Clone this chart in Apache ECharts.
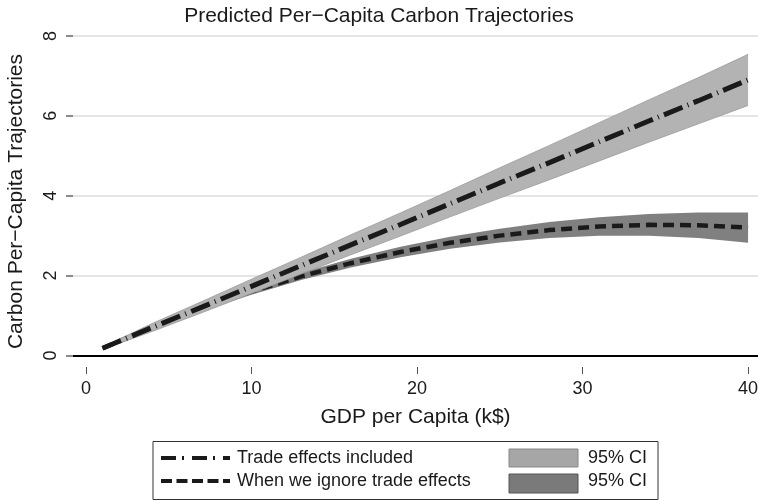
<!DOCTYPE html>
<html>
<head>
<meta charset="utf-8">
<script src="https://cdn.jsdelivr.net/npm/echarts@6/dist/echarts.min.js"></script>
<style>html,body{margin:0;padding:0;background:#fff}#c{width:758px;height:500px}</style>
</head>
<body>
<div id="c"></div>
<script>
// ---- data ----
var gdp = [1, 4, 7, 10, 13, 16, 19, 22, 25, 28, 31, 34, 37, 40];
var tradeFit   = [0.18, 0.70, 1.21, 1.73, 2.25, 2.77, 3.28, 3.80, 4.32, 4.83, 5.35, 5.87, 6.38, 6.90];
var tradeUpper = [0.21, 0.80, 1.35, 1.91, 2.46, 3.02, 3.57, 4.13, 4.70, 5.26, 5.83, 6.40, 6.96, 7.54];
var tradeLower = [0.15, 0.60, 1.07, 1.55, 2.04, 2.52, 2.99, 3.47, 3.94, 4.40, 4.87, 5.34, 5.80, 6.26];
var noTradeFit   = [0.18, 0.70, 1.18, 1.60, 1.98, 2.31, 2.59, 2.82, 3.00, 3.14, 3.23, 3.27, 3.26, 3.20];
var noTradeUpper = [0.20, 0.74, 1.24, 1.68, 2.07, 2.42, 2.72, 2.97, 3.17, 3.34, 3.46, 3.54, 3.58, 3.58];
var noTradeLower = [0.16, 0.66, 1.12, 1.52, 1.89, 2.20, 2.46, 2.67, 2.83, 2.94, 3.00, 3.00, 2.94, 2.82];
var xTicks = [0, 10, 20, 30, 40];
var yTicks = [0, 2, 4, 6, 8];
var titleText = 'Predicted Per\u2212Capita Carbon Trajectories';
var xName = 'GDP per Capita (k$)';
var yName = 'Carbon Per\u2212Capita Trajectories';
var legendLabels = ['Trade effects included', 'When we ignore trade effects', '95% CI', '95% CI'];

// ---- build ----
function pairs(ys) { return gdp.map(function (x, i) { return [x, ys[i]]; }); }
function bandData(lo, hi) { return gdp.map(function (x, i) { return [x, lo[i], hi[i]]; }); }
function makeBand(lo, hi, fill, stroke, z) {
  var d = bandData(lo, hi);
  return {
    type: 'custom', data: d, z: z, silent: true, clip: true,
    encode: { x: 0, y: [1, 2] },
    renderItem: function (params, api) {
      if (params.dataIndex !== 0) return null;
      var upper = [], lower = [];
      for (var i = 0; i < d.length; i++) {
        upper.push(api.coord([d[i][0], d[i][2]]));
        lower.push(api.coord([d[i][0], d[i][1]]));
      }
      var pts = upper.concat(lower.slice().reverse());
      var children = [{ type: 'polygon', shape: { points: pts }, style: { fill: fill, stroke: 'none' } }];
      if (stroke) {
        children.push({ type: 'polyline', shape: { points: upper }, style: { fill: 'none', stroke: stroke, lineWidth: 0.8 } });
        children.push({ type: 'polyline', shape: { points: lower }, style: { fill: 'none', stroke: stroke, lineWidth: 0.8 } });
      }
      return { type: 'group', children: children };
    }
  };
}
var FONT = 'Liberation Sans, Arial, Helvetica, sans-serif';
var chart = echarts.init(document.getElementById('c'), null, { renderer: 'canvas' });
var option = {
  animation: false,
  backgroundColor: '#ffffff',
  textStyle: { fontFamily: FONT },
  title: {
    text: titleText, left: 'center', top: 6, padding: 0,
    textStyle: { fontFamily: FONT, fontSize: 21, fontWeight: 'normal', color: '#1a1a1a' }
  },
  grid: { left: 73, right: 0, top: 36, bottom: 133, containLabel: false, outerBoundsMode: 'none' },
  xAxis: {
    type: 'value', min: -0.785, max: 40.6,
    name: xName, nameLocation: 'middle', nameGap: 40,
    nameTextStyle: { fontFamily: FONT, fontSize: 21, color: '#1a1a1a' },
    axisLine: { show: false, onZero: false },
    axisTick: { show: true, length: 7, customValues: xTicks, lineStyle: { color: '#555', width: 1 } },
    axisLabel: { customValues: xTicks, margin: 13, fontFamily: FONT, fontSize: 18, color: '#1a1a1a' },
    splitLine: { show: false }
  },
  yAxis: {
    type: 'value', min: -0.29, max: 8,
    name: yName, nameLocation: 'middle', nameGap: 46, nameRotate: 90,
    nameTextStyle: { fontFamily: FONT, fontSize: 21, color: '#1a1a1a' },
    axisLine: { show: false, onZero: false },
    axisTick: { show: true, length: 7, customValues: yTicks, lineStyle: { color: '#666', width: 1.5 } },
    axisLabel: { customValues: yTicks, rotate: 90, margin: 13, align: 'center', verticalAlign: 'bottom',
      fontFamily: FONT, fontSize: 18, color: '#1a1a1a' },
    splitLine: { show: true, lineStyle: { color: '#dcdcdc', width: 1.5 } }
  },
  series: [
    makeBand(noTradeLower, noTradeUpper, '#808080', null, 2),
    { type: 'line', data: pairs(noTradeFit), symbol: 'none', z: 3,
      lineStyle: { color: '#1a1a1a', width: 4.5, type: [11, 6], cap: 'butt' },
      markLine: { silent: true, symbol: 'none', label: { show: false }, z: 1,
        lineStyle: { color: '#000', width: 1.8, type: 'solid' }, data: [{ yAxis: 0 }] } },
    makeBand(tradeLower, tradeUpper, '#b3b3b3', '#999999', 4),
    { type: 'line', data: pairs(tradeFit), symbol: 'none', z: 5,
      lineStyle: { color: '#1a1a1a', width: 5, type: [20, 5.5, 1, 5.5], cap: 'butt' } }
  ],
  graphic: [
    { type: 'rect', shape: { x: 153, y: 441.5, width: 505, height: 58 }, style: { fill: '#fff', stroke: '#333', lineWidth: 1 }, z: 10 },
    { type: 'line', shape: { x1: 161, y1: 458, x2: 230, y2: 458 }, style: { stroke: '#1a1a1a', lineWidth: 4, lineDash: [15, 6, 2, 8] }, z: 11 },
    { type: 'text', x: 237, y: 458, style: { text: legendLabels[0], font: '18px ' + FONT, fill: '#1a1a1a', verticalAlign: 'middle' }, z: 11 },
    { type: 'line', shape: { x1: 161, y1: 481, x2: 230, y2: 481 }, style: { stroke: '#1a1a1a', lineWidth: 4, lineDash: [11, 4.5] }, z: 11 },
    { type: 'text', x: 237, y: 481, style: { text: legendLabels[1], font: '18px ' + FONT, fill: '#1a1a1a', verticalAlign: 'middle' }, z: 11 },
    { type: 'rect', shape: { x: 509, y: 449, width: 69, height: 18 }, style: { fill: '#a6a6a6', stroke: '#888', lineWidth: 1 }, z: 11 },
    { type: 'text', x: 588, y: 458, style: { text: legendLabels[2], font: '18px ' + FONT, fill: '#1a1a1a', verticalAlign: 'middle' }, z: 11 },
    { type: 'rect', shape: { x: 509, y: 474, width: 69, height: 19 }, style: { fill: '#7a7a7a', stroke: '#555', lineWidth: 1 }, z: 11 },
    { type: 'text', x: 588, y: 481, style: { text: legendLabels[3], font: '18px ' + FONT, fill: '#1a1a1a', verticalAlign: 'middle' }, z: 11 }
  ]
};
chart.setOption(option);
</script>
</body>
</html>
